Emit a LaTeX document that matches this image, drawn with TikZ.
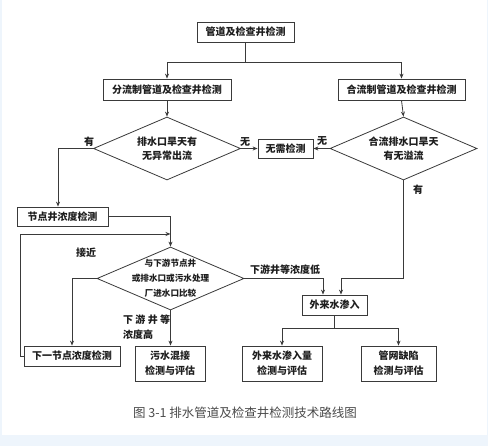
\documentclass[tikz,border=0pt]{standalone}
\usepackage{fontspec}
\newfontfamily\cjk{Noto Sans CJK SC}
\usetikzlibrary{shapes.geometric,arrows.meta}
\definecolor{linec}{HTML}{3A3A3A}
\definecolor{textc}{HTML}{1E1E1E}
\definecolor{bgblue}{HTML}{EEF5FC}
\definecolor{capc}{HTML}{4A4A4A}
\begin{document}
\begin{tikzpicture}[x=1pt,y=-1pt,
  box/.style={draw=linec, line width=0.8pt, fill=white, inner sep=0pt, align=center,
    font=\cjk\bfseries\fontsize{10}{15}\selectfont, text=textc},
  dia/.style={diamond, draw=linec, line width=0.8pt, inner sep=0pt,
    minimum width=147pt, minimum height=63pt},
  diatext/.style={font=\cjk\bfseries\fontsize{10}{14}\selectfont, text=textc, align=center, inner sep=0pt},
  diatextsm/.style={font=\cjk\bfseries\fontsize{8.6}{15}\selectfont, text=textc, align=center, inner sep=0pt},
  arr/.style={draw=linec, line width=0.8pt, -{Stealth[length=5pt,width=4pt]}},
  ln/.style={draw=linec, line width=0.8pt},
  lbl/.style={font=\cjk\bfseries\fontsize{10}{15}\selectfont, text=textc, inner sep=0pt}
]
\useasboundingbox (0,0) rectangle (488,446);
\fill[bgblue] (0,0) rectangle (488,446);
\fill[white] (1.5,0) rectangle (487,435);

% nodes
\node[box, minimum width=97pt, minimum height=20pt] (top) at (245.5,32) {管道及检查井检测};
\node[box, minimum width=128pt, minimum height=21pt] (b1) at (167,89.5) {分流制管道及检查井检测};
\node[box, minimum width=127pt, minimum height=21pt] (b2) at (401.5,89.5) {合流制管道及检查井检测};
\node[dia, label={[diatext]center:{排水口旱天有\\无异常出流}}] (d1) at (167,148.5) {};
\node[box, minimum width=55pt, minimum height=19pt] (none) at (285.5,148.5) {无需检测};
\node[dia, label={[diatext]center:{合流排水口旱天\\有无溢流}}] (d2) at (403.5,148.5) {};
\node[box, minimum width=91pt, minimum height=19pt] (n1) at (62.5,216.5) {节点井浓度检测};
\node[dia, label={[diatextsm]center:{与下游节点井\\或排水口或污水处理\\厂进水口比较}}] (d3) at (170.5,278.5) {};
\node[box, minimum width=96pt, minimum height=20pt] (n2) at (72,356) {下一节点浓度检测};
\node[box, minimum width=70pt, minimum height=35pt] (w1) at (170,363.5) {污水混接\\检测与评估};
\node[box, minimum width=65pt, minimum height=20pt] (ext) at (334.5,305) {外来水渗入};
\node[box, minimum width=80pt, minimum height=35pt] (e1) at (282,363.5) {外来水渗入量\\检测与评估};
\node[box, minimum width=75pt, minimum height=35pt] (e2) at (398.5,363.5) {管网缺陷\\检测与评估};

% labels
\node[lbl] (l1) at (89,142) {有};
\node[lbl] (l2) at (245,142) {无};
\node[lbl] (l3) at (322,141) {无};
\node[lbl] (l4) at (418,190) {有};
\node[lbl] (l5) at (86,253) {接近};
\node[lbl] (l6) at (285,270) {下游井等浓度低};
\node[lbl, align=left, anchor=north west] (l7) at (123,315) {下 游 井 等\\浓度高};

\node[font=\cjk\fontsize{12.5}{15}\selectfont, text=capc, inner sep=0pt] (cap) at (245,413) {图 3-1 排水管道及检查井检测技术路线图};

% coordinates
\coordinate (c0) at (245.5,62);
\coordinate (c1) at (403.5,278);
\coordinate (c2) at (334.5,328);
\coordinate (j) at (170.5,234);

% connectors
\draw[ln] (top.south) -- (c0);
\draw[arr] (c0) -| (b1.north);
\draw[arr] (c0) -| (b2.north);
\draw[arr] (b1.south) -- (d1.north);
\draw[arr] (b2.south) -- (d2.north);
\draw[arr] (d1.east) -- (none.west);
\draw[arr] (d2.west) -- (none.east);
\draw[arr] (d1.west) -| ([xshift=-4.5pt]n1.north);
\draw[arr] (n1.east) -| (d3.north);
\draw[arr] (n2.west) -- ++(-3,0) |- (j);
\draw[arr] (d3.west) -| (n2.north);
\draw[arr] (d3.south) -- (d3.south |- w1.north);
\draw[arr] (d3.east) -| ([xshift=-11.5pt]ext.north);
\draw[ln] (d2.south) -- (c1);
\draw[arr] (c1) -| ([xshift=6.5pt]ext.north);
\draw[ln] (ext.south) -- (c2);
\draw[arr] (c2) -| (e1.north);
\draw[arr] (c2) -| (e2.north);
\end{tikzpicture}
\end{document}
